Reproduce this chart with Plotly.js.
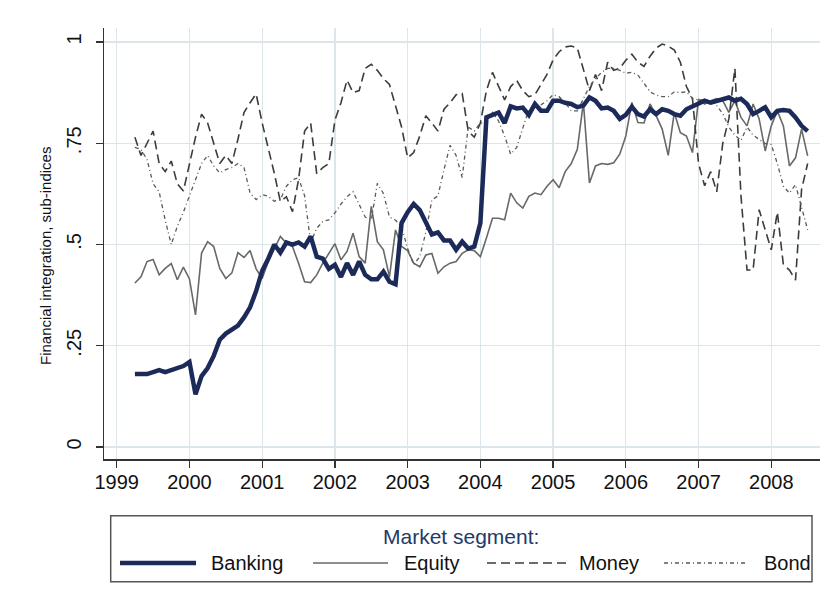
<!DOCTYPE html>
<html>
<head>
<meta charset="utf-8">
<script src="https://cdn.plot.ly/plotly-3.0.1.min.js"></script>
<style>
  body { margin: 0; background: #fff; }
  #chart { width: 829px; height: 595px; }
</style>
</head>
<body>
<div id="chart"></div>
<script>
// Monthly sub-indices, April 1999 to July 2008
var start_year = 1999.25;
var month_step = 1 / 12;

var banking_data = [
  .18, .18, .18, .185, .19, .185, .19, .195, .20,
  .21, .13, .175, .195, .225, .265, .28, .29, .30, .32, .345, .385,
  .435, .465, .50, .48, .505, .50, .505, .495, .52, .47, .465, .44,
  .45, .42, .454, .425, .458, .425, .414, .414, .433, .408, .402, .553,
  .58, .60, .585, .555, .525, .53, .51, .51, .487, .507, .49, .495,
  .553, .814, .82, .826, .80, .841, .836, .838, .82, .847, .83, .83,
  .855, .855, .85, .847, .839, .843, .863, .855, .836, .838, .83, .81,
  .82, .84, .822, .816, .834, .822, .834, .83, .822, .818, .834, .841,
  .847, .855, .85, .855, .86, .863, .855, .86, .847, .822, .83, .839,
  .814, .83, .832, .83, .814, .793, .78
];
var equity_data = [
  .405, .42, .458, .463, .425, .441, .453, .413, .444,
  .415, .326, .479, .507, .495, .441, .416, .43, .48, .468, .485, .44,
  .416, .458, .491, .52, .503, .495, .454, .408, .406, .425, .454, .478,
  .502, .462, .483, .528, .47, .454, .594, .507, .487, .42, .536, .495,
  .485, .454, .445, .474, .478, .429, .445, .454, .458, .478, .487, .485,
  .47, .516, .565, .565, .561, .627, .603, .59, .619, .627, .623, .644,
  .66, .64, .68, .70, .735, .851, .652, .694, .70, .698, .702, .723,
  .768, .851, .801, .80, .847, .818, .785, .72, .826, .776, .768, .727,
  .859, .847, .855, .86, .855, .826, .855, .814, .793, .847, .81, .731,
  .793, .83, .793, .694, .714, .785, .719
];
var money_data = [
  .765, .72, .75, .78, .70, .68, .706, .65, .632,
  .70, .765, .822, .80, .75, .70, .72, .70, .76, .826, .85, .872,
  .80, .74, .676, .606, .618, .581, .66, .78, .80, .675, .69, .70,
  .807, .85, .906, .875, .88, .935, .945, .93, .91, .895, .84, .79,
  .714, .727, .768, .818, .80, .78, .834, .85, .87, .873, .78, .765,
  .80, .88, .925, .89, .857, .89, .905, .88, .865, .87, .895, .92,
  .956, .976, .988, .99, .985, .93, .88, .92, .88, .95, .93, .935,
  .955, .97, .95, .94, .965, .985, .995, .99, .98, .95, .89, .86,
  .70, .645, .68, .63, .75, .81, .935, .62, .437, .437, .586, .536,
  .487, .58, .45, .437, .412, .636, .70
];
var bond_data = [
  .74, .735, .71, .65, .63, .56, .50, .545, .58,
  .62, .655, .70, .72, .694, .677, .685, .69, .70, .69, .627, .611,
  .623, .619, .607, .611, .644, .66, .665, .62, .505, .54, .557, .561,
  .578, .60, .618, .63, .60, .568, .56, .651, .626, .568, .56, .544,
  .49, .45, .47, .53, .61, .62, .685, .745, .72, .665, .79, .78,
  .80, .80, .826, .805, .768, .723, .74, .79, .834, .84, .845, .855,
  .87, .865, .85, .83, .83, .86, .89, .91, .925, .935, .935, .93,
  .923, .925, .918, .898, .877, .869, .865, .865, .877, .875, .877, .861,
  .857, .857, .855, .843, .823, .79, .77, .757, .79, .77, .76, .749,
  .747, .70, .644, .627, .648, .59, .536
];

var year_ticks = [1999, 2000, 2001, 2002, 2003, 2004, 2005, 2006, 2007, 2008];
var y_ticks = [0, .25, .5, .75, 1];
var y_tick_text = ["0", ".25", ".5", ".75", "1"];
var series_names = ["Banking", "Equity", "Money", "Bond"];

// Line styles (legend is drawn by hand, Stata-like long samples)
var line_styles = {
  Banking: {color: "#1b2a58", width: 4.5, dash: "solid"},
  Equity: {color: "#686868", width: 1.6, dash: "solid"},
  Money: {color: "#3c3c3c", width: 1.6, dash: "9px,5px"},
  Bond: {color: "#5a5a5a", width: 1.3, dash: "4px,3px,1px,3px"}
};
var series_values = {Banking: banking_data, Equity: equity_data, Money: money_data, Bond: bond_data};

var font_family = "Liberation Sans, Arial, sans-serif";
var grid_color = "#dce5ea";
var axis_color = "#333333";

// plot area in pixels: left 104, right 820, top 28, bottom 459
function px_x(px) { return (px - 104) / 716; }
function px_y(py) { return (459 - py) / 431; }

// Build traces, banking drawn last so it sits on top
var draw_order = ["Equity", "Money", "Bond", "Banking"];
var traces = draw_order.map(function(name) {
  return {
    x0: start_year,
    dx: month_step,
    y: series_values[name],
    mode: "lines",
    name: name,
    line: line_styles[name],
    hoverinfo: "skip"
  };
});

// Legend box, samples and labels
var legend_row_y = px_y(563);
var sample_pos = {
  Banking: [120, 196, 209],
  Equity: [313, 388, 402],
  Money: [487, 568, 577],
  Bond: [664, 746, 762]
};
var shapes = [{
  type: "rect", xref: "paper", yref: "paper",
  x0: px_x(110.7), x1: px_x(812), y0: px_y(581.7), y1: px_y(515.7),
  line: {color: "#555555", width: 1.5}, fillcolor: "rgba(0,0,0,0)"
}];
var annotations = [{
  text: "Market segment:", xref: "paper", yref: "paper",
  x: px_x(461), y: px_y(536), showarrow: false,
  xanchor: "center", yanchor: "middle",
  font: {family: font_family, size: 21, color: "#223a68"}
}, {
  text: "Financial integration, sub-indices", xref: "paper", yref: "paper",
  x: px_x(45), y: px_y(256), showarrow: false, textangle: -90,
  xanchor: "center", yanchor: "middle",
  font: {family: font_family, size: 15, color: "#111111"}
}];
series_names.forEach(function(name) {
  var pos = sample_pos[name];
  var st = line_styles[name];
  shapes.push({
    type: "line", xref: "paper", yref: "paper",
    x0: px_x(pos[0]), x1: px_x(pos[1]), y0: legend_row_y, y1: legend_row_y,
    line: {color: st.color, width: st.width, dash: st.dash}
  });
  annotations.push({
    text: name, xref: "paper", yref: "paper",
    x: px_x(pos[2]), y: legend_row_y, showarrow: false,
    xanchor: "left", yanchor: "middle",
    font: {family: font_family, size: 20, color: "#111111"}
  });
});

var layout = {
  width: 829,
  height: 595,
  margin: {l: 104, r: 9, t: 28, b: 136},
  paper_bgcolor: "#ffffff",
  plot_bgcolor: "#ffffff",
  showlegend: false,
  font: {family: font_family, color: "#111111"},
  xaxis: {
    range: [1998.825, 2008.67],
    tickvals: year_ticks,
    ticktext: year_ticks.map(String),
    showgrid: true, gridcolor: grid_color, gridwidth: 1.2,
    zeroline: false,
    showline: true, linecolor: axis_color, linewidth: 1.5,
    ticks: "outside", ticklen: 7, tickwidth: 1.2, tickcolor: axis_color,
    ticklabelstandoff: -3,
    tickfont: {size: 20, color: "#111111"},
    fixedrange: true
  },
  yaxis: {
    range: [-0.0296, 1.0346],
    tickvals: y_ticks,
    ticktext: y_tick_text,
    tickangle: -90,
    showgrid: true, gridcolor: grid_color, gridwidth: 1.2,
    zeroline: false,
    showline: true, linecolor: axis_color, linewidth: 1.5,
    ticks: "outside", ticklen: 7, tickwidth: 1.2, tickcolor: axis_color,
    ticklabelstandoff: 7,
    tickfont: {size: 20, color: "#111111"},
    fixedrange: true
  },
  shapes: shapes,
  annotations: annotations
};

Plotly.newPlot("chart", traces, layout, {displayModeBar: false, staticPlot: true});
</script>
</body>
</html>
